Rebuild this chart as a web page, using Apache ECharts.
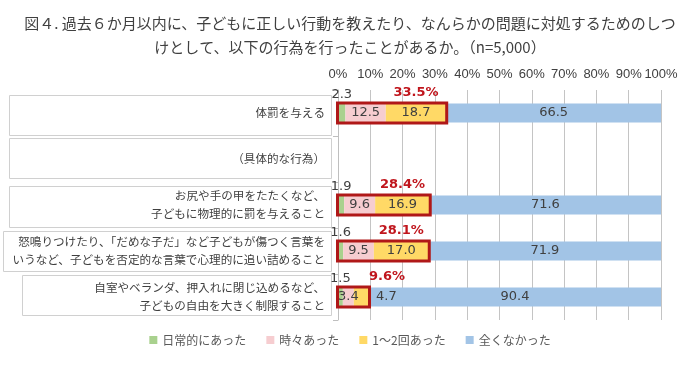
<!DOCTYPE html>
<html><head><meta charset="utf-8">
<script src="https://cdn.jsdelivr.net/npm/echarts@6/dist/echarts.min.js"></script>
<style>html,body{margin:0;padding:0;background:#fff}#c{width:700px;height:365px}</style>
</head><body><div id="c"></div>
<script>
const titleText = '図４. 過去６か月以内に、子どもに正しい行動を教えたり、なんらかの問題に対処するためのしつ\nけとして、以下の行為を行ったことがあるか。（n=5,000）';
const categories = [
  '体罰を与える',
  '（具体的な行為）',
  'お尻や手の甲をたたくなど、\n子どもに物理的に罰を与えること',
  '怒鳴りつけたり、「だめな子だ」など子どもが傷つく言葉を\nいうなど、子どもを否定的な言葉で心理的に追い詰めること',
  '自室やベランダ、押入れに閉じ込めるなど、\n子どもの自由を大きく制限すること'
];
const seriesNames = ['日常的にあった', '時々あった', '1～2回あった', '全くなかった'];
const daily = [2.3, null, 1.9, 1.6, 1.5];
const sometimes = [12.5, null, 9.6, 9.5, 3.4];
const onceTwice = [18.7, null, 16.9, 17.0, 4.7];
const never = [66.5, null, 71.6, 71.9, 90.4];
const totals = [33.5, null, 28.4, 28.1, 9.6];
const xTicks = [0, 10, 20, 30, 40, 50, 60, 70, 80, 90, 100];

const colors = ['#a9d18e', '#f6cdd0', '#ffd966', '#a2c4e6'];
const txt = '#404040';
const numFont = 'DejaVu Sans';
const jpFont = 'Noto Sans CJK JP';

const chart = echarts.init(document.getElementById('c'), null, {renderer: 'canvas'});
const BAR_H = 19;

function toData(arr) { return arr.map(v => v == null ? '-' : v); }

const boxData = [];
totals.forEach((t, i) => { if (t != null) boxData.push([t, i, daily[i] + sometimes[i]]); });

const option = {
  animation: false,
  backgroundColor: '#fff',
  textStyle: {fontFamily: jpFont},
  title: {
    text: titleText, left: 'center', top: 6,
    textStyle: {fontSize: 15, fontWeight: 'normal', color: txt, lineHeight: 24, fontFamily: jpFont, align: 'center'}
  },
  legend: {
    data: seriesNames, bottom: 14, left: 'center', icon: 'rect', itemWidth: 8, itemHeight: 8, itemGap: 20,
    textStyle: {fontSize: 12, color: '#595959', fontFamily: jpFont}
  },
  graphic: [
    {type: 'rect', shape: {x: 9.5, y: 95.5, width: 322, height: 40}, style: {fill: 'none', stroke: '#d0d0d0', lineWidth: 1}, z: 0},
    {type: 'rect', shape: {x: 9.5, y: 138.5, width: 322, height: 40}, style: {fill: 'none', stroke: '#d0d0d0', lineWidth: 1}, z: 0},
    {type: 'rect', shape: {x: 9.5, y: 186.5, width: 322, height: 41}, style: {fill: 'none', stroke: '#d0d0d0', lineWidth: 1}, z: 0},
    {type: 'rect', shape: {x: 3.5, y: 231.5, width: 328, height: 40}, style: {fill: 'none', stroke: '#d0d0d0', lineWidth: 1}, z: 0},
    {type: 'rect', shape: {x: 22.5, y: 275.5, width: 309, height: 40}, style: {fill: 'none', stroke: '#d0d0d0', lineWidth: 1}, z: 0}
  ],
  grid: {left: 338, right: 39, top: 90, bottom: 45, containLabel: false},
  xAxis: {
    type: 'value', position: 'top', min: 0, max: 100, interval: 10,
    axisLine: {show: false}, axisTick: {show: false},
    axisLabel: {formatter: '{value}%', color: txt, fontSize: 13, fontFamily: 'Liberation Sans', margin: 9, showMaxLabel: true, showMinLabel: true, hideOverlap: false},
    splitLine: {show: true, lineStyle: {color: '#c4c4c4', width: 1}}
  },
  yAxis: {
    type: 'category', inverse: true, data: categories,
    axisLine: {show: true, lineStyle: {color: '#bfbfbf'}},
    axisTick: {show: true, length: 5, lineStyle: {color: '#bfbfbf'}},
    axisLabel: {color: txt, fontSize: 11.6, margin: 13, lineHeight: 18, align: 'right', fontFamily: jpFont}
  },
  series: [
    {
      name: seriesNames[0], type: 'bar', stack: 's', barWidth: BAR_H, data: toData(daily),
      itemStyle: {color: colors[0]},
      label: {show: true, position: 'top', distance: 2, color: txt, fontSize: 13, fontFamily: numFont, formatter: p => p.value.toFixed(1)}
    },
    {
      name: seriesNames[1], type: 'bar', stack: 's', data: toData(sometimes),
      itemStyle: {color: colors[1]},
      label: {show: true, position: 'inside', color: txt, fontSize: 13, fontFamily: numFont, formatter: p => p.value.toFixed(1)}
    },
    {
      name: seriesNames[2], type: 'bar', stack: 's',
      data: onceTwice.map((v, i) => {
        if (v == null) return '-';
        if (v < 8) return {value: v, label: {position: 'right', distance: 7}};
        return v;
      }),
      itemStyle: {color: colors[2]},
      label: {show: true, position: 'inside', color: txt, fontSize: 13, fontFamily: numFont, formatter: p => p.value.toFixed(1)}
    },
    {
      name: seriesNames[3], type: 'bar', stack: 's', data: toData(never),
      itemStyle: {color: colors[3]},
      label: {show: true, position: 'inside', color: txt, fontSize: 13, fontFamily: numFont, formatter: p => p.value.toFixed(1)}
    },
    {
      type: 'custom', z: 10, silent: true, coordinateSystem: 'cartesian2d',
      encode: {x: 0, y: 1},
      data: boxData,
      renderItem: function (params, api) {
        const total = api.value(0), idx = api.value(1), start = api.value(2);
        const p0 = api.coord([0, idx]);
        const p1 = api.coord([total, idx]);
        const ps = api.coord([start, idx]);
        const h = BAR_H + 1;
        let tx = (ps[0] + p1[0]) / 2;
        if (p1[0] - ps[0] < 26) tx = p1[0] + 7 + 11;
        return {
          type: 'group',
          children: [
            {type: 'rect', shape: {x: p0[0] - 0.5, y: p0[1] - h / 2, width: p1[0] - p0[0] + 1, height: h},
             style: {fill: 'none', stroke: '#b01818', lineWidth: 3}},
            {type: 'text', x: tx, y: p0[1] - 20,
             style: {text: total.toFixed(1) + '%', fill: '#c0161d', font: 'bold 13px "DejaVu Sans"', align: 'center', verticalAlign: 'middle'}}
          ]
        };
      }
    }
  ]
};
chart.setOption(option);
</script>
</body></html>
